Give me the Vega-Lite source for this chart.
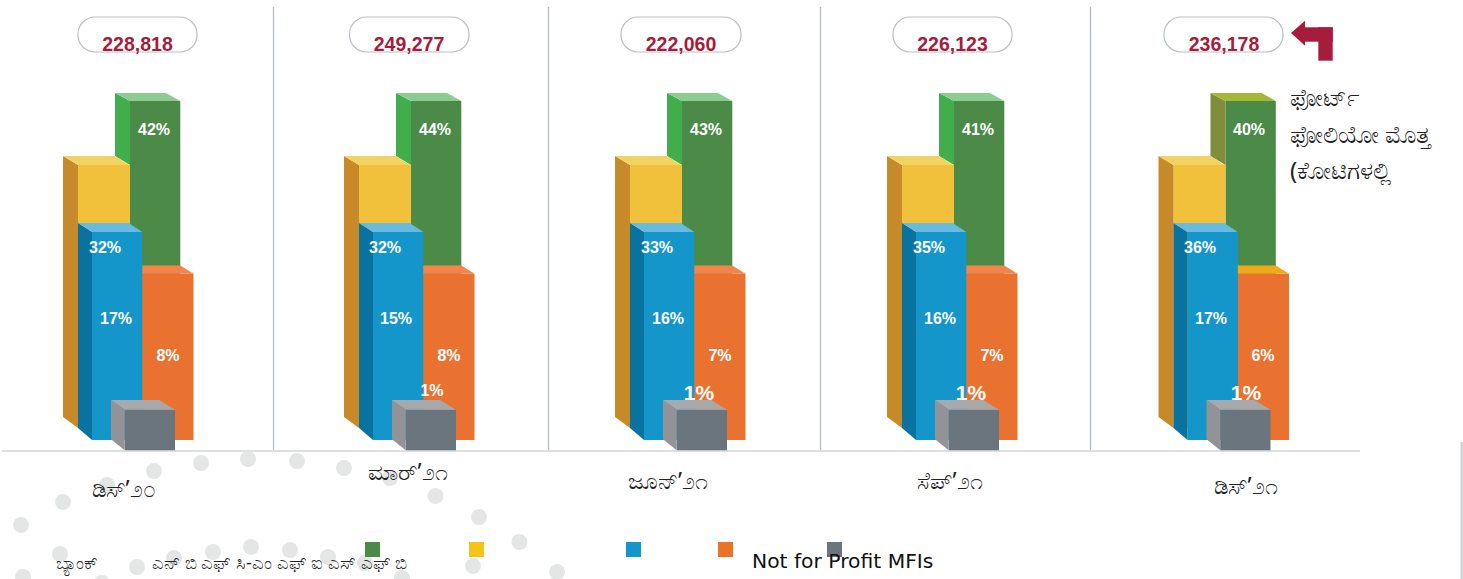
{"$schema":"https://vega.github.io/schema/vega-lite/v6.json","width":1463,"height":579,"padding":0,"autosize":{"type":"none"},"background":"white","view":{"stroke":null},
"config":{"axis":{"disable":true}},
"datasets":{
"dots":[{"x":21,"y":525},{"x":63,"y":502},{"x":107,"y":485},{"x":154,"y":471},{"x":201,"y":463},{"x":248,"y":459},{"x":297,"y":461},{"x":344,"y":468},{"x":390,"y":478},{"x":435.5,"y":496},{"x":479,"y":517},{"x":519.5,"y":542},{"x":557,"y":572},{"x":23,"y":577},{"x":60,"y":554},{"x":102,"y":583},{"x":137,"y":567},{"x":174,"y":558},{"x":213,"y":552},{"x":251,"y":547},{"x":290,"y":550},{"x":328,"y":557},{"x":365,"y":563},{"x":402,"y":578},{"x":473,"y":566}],
"lines":[{"x":273.5,"y":7,"y2":451},{"x":548.5,"y":7,"y2":451},{"x":820.5,"y":7,"y2":451},{"x":1090.5,"y":7,"y2":451}],
"faces":[
{"panel":1,"face":"green front","x":130,"y":101,"y2":440},{"panel":1,"face":"green front","x":180.3,"y":101,"y2":440},
{"panel":1,"face":"green side","x":115,"y":93,"y2":156},{"panel":1,"face":"green side","x":130,"y":101,"y2":165},
{"panel":1,"face":"green top","x":115,"y":93,"y2":93},{"panel":1,"face":"green top","x":130,"y":93,"y2":101},{"panel":1,"face":"green top","x":166,"y":93,"y2":101},{"panel":1,"face":"green top","x":180.3,"y":101,"y2":101},
{"panel":1,"face":"yellow front","x":78,"y":165,"y2":428},{"panel":1,"face":"yellow front","x":130,"y":165,"y2":428},
{"panel":1,"face":"yellow side","x":63,"y":156,"y2":417},{"panel":1,"face":"yellow side","x":78,"y":165,"y2":428},
{"panel":1,"face":"yellow top","x":63,"y":156,"y2":156},{"panel":1,"face":"yellow top","x":78,"y":156,"y2":165},{"panel":1,"face":"yellow top","x":115,"y":156,"y2":165},{"panel":1,"face":"yellow top","x":129,"y":165,"y2":165},
{"panel":1,"face":"orange front","x":142,"y":273.7,"y2":440},{"panel":1,"face":"orange front","x":193.5,"y":273.7,"y2":440},
{"panel":1,"face":"orange top","x":128,"y":265.5,"y2":265.5},{"panel":1,"face":"orange top","x":142,"y":265.5,"y2":273.7},{"panel":1,"face":"orange top","x":180.3,"y":265.5,"y2":273.7},{"panel":1,"face":"orange top","x":193.5,"y":273.7,"y2":273.7},
{"panel":1,"face":"blue front","x":92,"y":232,"y2":440},{"panel":1,"face":"blue front","x":142.3,"y":232,"y2":440},
{"panel":1,"face":"blue side","x":78,"y":223,"y2":428},{"panel":1,"face":"blue side","x":92,"y":232,"y2":440},
{"panel":1,"face":"blue top","x":78,"y":223,"y2":223},{"panel":1,"face":"blue top","x":92,"y":223,"y2":232},{"panel":1,"face":"blue top","x":128.5,"y":223,"y2":232},{"panel":1,"face":"blue top","x":142.3,"y":232,"y2":232},
{"panel":1,"face":"gray front","x":124.7,"y":409.7,"y2":450.3},{"panel":1,"face":"gray front","x":175,"y":409.7,"y2":450.3},
{"panel":1,"face":"gray side","x":111,"y":400,"y2":439.3},{"panel":1,"face":"gray side","x":124.7,"y":409.7,"y2":450.3},
{"panel":1,"face":"gray top","x":111,"y":400,"y2":400},{"panel":1,"face":"gray top","x":124.7,"y":400,"y2":409.7},{"panel":1,"face":"gray top","x":159,"y":400,"y2":409.7},{"panel":1,"face":"gray top","x":175,"y":409.7,"y2":409.7},

{"panel":2,"face":"green front","x":411,"y":101,"y2":440},{"panel":2,"face":"green front","x":461.3,"y":101,"y2":440},
{"panel":2,"face":"green side","x":396,"y":93,"y2":156},{"panel":2,"face":"green side","x":411,"y":101,"y2":165},
{"panel":2,"face":"green top","x":396,"y":93,"y2":93},{"panel":2,"face":"green top","x":411,"y":93,"y2":101},{"panel":2,"face":"green top","x":447,"y":93,"y2":101},{"panel":2,"face":"green top","x":461.3,"y":101,"y2":101},
{"panel":2,"face":"yellow front","x":359,"y":165,"y2":428},{"panel":2,"face":"yellow front","x":411,"y":165,"y2":428},
{"panel":2,"face":"yellow side","x":344,"y":156,"y2":417},{"panel":2,"face":"yellow side","x":359,"y":165,"y2":428},
{"panel":2,"face":"yellow top","x":344,"y":156,"y2":156},{"panel":2,"face":"yellow top","x":359,"y":156,"y2":165},{"panel":2,"face":"yellow top","x":396,"y":156,"y2":165},{"panel":2,"face":"yellow top","x":410,"y":165,"y2":165},
{"panel":2,"face":"orange front","x":423,"y":273.7,"y2":440},{"panel":2,"face":"orange front","x":474.5,"y":273.7,"y2":440},
{"panel":2,"face":"orange top","x":409,"y":265.5,"y2":265.5},{"panel":2,"face":"orange top","x":423,"y":265.5,"y2":273.7},{"panel":2,"face":"orange top","x":461.3,"y":265.5,"y2":273.7},{"panel":2,"face":"orange top","x":474.5,"y":273.7,"y2":273.7},
{"panel":2,"face":"blue front","x":373,"y":232,"y2":440},{"panel":2,"face":"blue front","x":423.3,"y":232,"y2":440},
{"panel":2,"face":"blue side","x":359,"y":223,"y2":428},{"panel":2,"face":"blue side","x":373,"y":232,"y2":440},
{"panel":2,"face":"blue top","x":359,"y":223,"y2":223},{"panel":2,"face":"blue top","x":373,"y":223,"y2":232},{"panel":2,"face":"blue top","x":409.5,"y":223,"y2":232},{"panel":2,"face":"blue top","x":423.3,"y":232,"y2":232},
{"panel":2,"face":"gray front","x":405.7,"y":409.7,"y2":450.3},{"panel":2,"face":"gray front","x":456,"y":409.7,"y2":450.3},
{"panel":2,"face":"gray side","x":392,"y":400,"y2":439.3},{"panel":2,"face":"gray side","x":405.7,"y":409.7,"y2":450.3},
{"panel":2,"face":"gray top","x":392,"y":400,"y2":400},{"panel":2,"face":"gray top","x":405.7,"y":400,"y2":409.7},{"panel":2,"face":"gray top","x":440,"y":400,"y2":409.7},{"panel":2,"face":"gray top","x":456,"y":409.7,"y2":409.7},

{"panel":3,"face":"green front","x":682,"y":101,"y2":440},{"panel":3,"face":"green front","x":732.3,"y":101,"y2":440},
{"panel":3,"face":"green side","x":667,"y":93,"y2":156},{"panel":3,"face":"green side","x":682,"y":101,"y2":165},
{"panel":3,"face":"green top","x":667,"y":93,"y2":93},{"panel":3,"face":"green top","x":682,"y":93,"y2":101},{"panel":3,"face":"green top","x":718,"y":93,"y2":101},{"panel":3,"face":"green top","x":732.3,"y":101,"y2":101},
{"panel":3,"face":"yellow front","x":630,"y":165,"y2":428},{"panel":3,"face":"yellow front","x":682,"y":165,"y2":428},
{"panel":3,"face":"yellow side","x":615,"y":156,"y2":417},{"panel":3,"face":"yellow side","x":630,"y":165,"y2":428},
{"panel":3,"face":"yellow top","x":615,"y":156,"y2":156},{"panel":3,"face":"yellow top","x":630,"y":156,"y2":165},{"panel":3,"face":"yellow top","x":667,"y":156,"y2":165},{"panel":3,"face":"yellow top","x":681,"y":165,"y2":165},
{"panel":3,"face":"orange front","x":694,"y":273.7,"y2":440},{"panel":3,"face":"orange front","x":745.5,"y":273.7,"y2":440},
{"panel":3,"face":"orange top","x":680,"y":265.5,"y2":265.5},{"panel":3,"face":"orange top","x":694,"y":265.5,"y2":273.7},{"panel":3,"face":"orange top","x":732.3,"y":265.5,"y2":273.7},{"panel":3,"face":"orange top","x":745.5,"y":273.7,"y2":273.7},
{"panel":3,"face":"blue front","x":644,"y":232,"y2":440},{"panel":3,"face":"blue front","x":694.3,"y":232,"y2":440},
{"panel":3,"face":"blue side","x":630,"y":223,"y2":428},{"panel":3,"face":"blue side","x":644,"y":232,"y2":440},
{"panel":3,"face":"blue top","x":630,"y":223,"y2":223},{"panel":3,"face":"blue top","x":644,"y":223,"y2":232},{"panel":3,"face":"blue top","x":680.5,"y":223,"y2":232},{"panel":3,"face":"blue top","x":694.3,"y":232,"y2":232},
{"panel":3,"face":"gray front","x":676.7,"y":409.7,"y2":450.3},{"panel":3,"face":"gray front","x":727,"y":409.7,"y2":450.3},
{"panel":3,"face":"gray side","x":663,"y":400,"y2":439.3},{"panel":3,"face":"gray side","x":676.7,"y":409.7,"y2":450.3},
{"panel":3,"face":"gray top","x":663,"y":400,"y2":400},{"panel":3,"face":"gray top","x":676.7,"y":400,"y2":409.7},{"panel":3,"face":"gray top","x":711,"y":400,"y2":409.7},{"panel":3,"face":"gray top","x":727,"y":409.7,"y2":409.7},

{"panel":4,"face":"green front","x":954,"y":101,"y2":440},{"panel":4,"face":"green front","x":1004.3,"y":101,"y2":440},
{"panel":4,"face":"green side","x":939,"y":93,"y2":156},{"panel":4,"face":"green side","x":954,"y":101,"y2":165},
{"panel":4,"face":"green top","x":939,"y":93,"y2":93},{"panel":4,"face":"green top","x":954,"y":93,"y2":101},{"panel":4,"face":"green top","x":990,"y":93,"y2":101},{"panel":4,"face":"green top","x":1004.3,"y":101,"y2":101},
{"panel":4,"face":"yellow front","x":902,"y":165,"y2":428},{"panel":4,"face":"yellow front","x":954,"y":165,"y2":428},
{"panel":4,"face":"yellow side","x":887,"y":156,"y2":417},{"panel":4,"face":"yellow side","x":902,"y":165,"y2":428},
{"panel":4,"face":"yellow top","x":887,"y":156,"y2":156},{"panel":4,"face":"yellow top","x":902,"y":156,"y2":165},{"panel":4,"face":"yellow top","x":939,"y":156,"y2":165},{"panel":4,"face":"yellow top","x":953,"y":165,"y2":165},
{"panel":4,"face":"orange front","x":966,"y":273.7,"y2":440},{"panel":4,"face":"orange front","x":1017.5,"y":273.7,"y2":440},
{"panel":4,"face":"orange top","x":952,"y":265.5,"y2":265.5},{"panel":4,"face":"orange top","x":966,"y":265.5,"y2":273.7},{"panel":4,"face":"orange top","x":1004.3,"y":265.5,"y2":273.7},{"panel":4,"face":"orange top","x":1017.5,"y":273.7,"y2":273.7},
{"panel":4,"face":"blue front","x":916,"y":232,"y2":440},{"panel":4,"face":"blue front","x":966.3,"y":232,"y2":440},
{"panel":4,"face":"blue side","x":902,"y":223,"y2":428},{"panel":4,"face":"blue side","x":916,"y":232,"y2":440},
{"panel":4,"face":"blue top","x":902,"y":223,"y2":223},{"panel":4,"face":"blue top","x":916,"y":223,"y2":232},{"panel":4,"face":"blue top","x":952.5,"y":223,"y2":232},{"panel":4,"face":"blue top","x":966.3,"y":232,"y2":232},
{"panel":4,"face":"gray front","x":948.7,"y":409.7,"y2":450.3},{"panel":4,"face":"gray front","x":999,"y":409.7,"y2":450.3},
{"panel":4,"face":"gray side","x":935,"y":400,"y2":439.3},{"panel":4,"face":"gray side","x":948.7,"y":409.7,"y2":450.3},
{"panel":4,"face":"gray top","x":935,"y":400,"y2":400},{"panel":4,"face":"gray top","x":948.7,"y":400,"y2":409.7},{"panel":4,"face":"gray top","x":983,"y":400,"y2":409.7},{"panel":4,"face":"gray top","x":999,"y":409.7,"y2":409.7},

{"panel":5,"face":"green front","x":1225.5,"y":101,"y2":440},{"panel":5,"face":"green front","x":1275.8,"y":101,"y2":440},
{"panel":5,"face":"olive side","x":1210.5,"y":93,"y2":156},{"panel":5,"face":"olive side","x":1225.5,"y":101,"y2":165},
{"panel":5,"face":"olive top","x":1210.5,"y":93,"y2":93},{"panel":5,"face":"olive top","x":1225.5,"y":93,"y2":101},{"panel":5,"face":"olive top","x":1261.5,"y":93,"y2":101},{"panel":5,"face":"olive top","x":1275.8,"y":101,"y2":101},
{"panel":5,"face":"yellow front","x":1173.5,"y":165,"y2":428},{"panel":5,"face":"yellow front","x":1225.5,"y":165,"y2":428},
{"panel":5,"face":"yellow side","x":1158.5,"y":156,"y2":417},{"panel":5,"face":"yellow side","x":1173.5,"y":165,"y2":428},
{"panel":5,"face":"yellow top","x":1158.5,"y":156,"y2":156},{"panel":5,"face":"yellow top","x":1173.5,"y":156,"y2":165},{"panel":5,"face":"yellow top","x":1210.5,"y":156,"y2":165},{"panel":5,"face":"yellow top","x":1224.5,"y":165,"y2":165},
{"panel":5,"face":"orange front","x":1237.5,"y":273.7,"y2":440},{"panel":5,"face":"orange front","x":1289,"y":273.7,"y2":440},
{"panel":5,"face":"amber top","x":1223.5,"y":265.5,"y2":265.5},{"panel":5,"face":"amber top","x":1237.5,"y":265.5,"y2":273.7},{"panel":5,"face":"amber top","x":1275.8,"y":265.5,"y2":273.7},{"panel":5,"face":"amber top","x":1289,"y":273.7,"y2":273.7},
{"panel":5,"face":"blue front","x":1187.5,"y":232,"y2":440},{"panel":5,"face":"blue front","x":1237.8,"y":232,"y2":440},
{"panel":5,"face":"blue side","x":1173.5,"y":223,"y2":428},{"panel":5,"face":"blue side","x":1187.5,"y":232,"y2":440},
{"panel":5,"face":"blue top","x":1173.5,"y":223,"y2":223},{"panel":5,"face":"blue top","x":1187.5,"y":223,"y2":232},{"panel":5,"face":"blue top","x":1224,"y":223,"y2":232},{"panel":5,"face":"blue top","x":1237.8,"y":232,"y2":232},
{"panel":5,"face":"gray front","x":1220.2,"y":409.7,"y2":450.3},{"panel":5,"face":"gray front","x":1270.5,"y":409.7,"y2":450.3},
{"panel":5,"face":"gray side","x":1206.5,"y":400,"y2":439.3},{"panel":5,"face":"gray side","x":1220.2,"y":409.7,"y2":450.3},
{"panel":5,"face":"gray top","x":1206.5,"y":400,"y2":400},{"panel":5,"face":"gray top","x":1220.2,"y":400,"y2":409.7},{"panel":5,"face":"gray top","x":1254.5,"y":400,"y2":409.7},{"panel":5,"face":"gray top","x":1270.5,"y":409.7,"y2":409.7}
],
"pills":[{"x":78,"x2":197,"y":17,"y2":52},{"x":349.5,"x2":469,"y":17,"y2":52},{"x":621,"x2":741,"y":17,"y2":52},{"x":893,"x2":1012,"y":17,"y2":52},{"x":1164,"x2":1283,"y":17,"y2":52}],
"totals":[{"x":137.5,"y":44.5,"t":"228,818"},{"x":409,"y":44.5,"t":"249,277"},{"x":681,"y":44.5,"t":"222,060"},{"x":952.5,"y":44.5,"t":"226,123"},{"x":1224,"y":44.5,"t":"236,178"}],
"pct":[{"x":154,"y":130,"t":"42%"},{"x":105,"y":248,"t":"32%"},{"x":116,"y":319,"t":"17%"},{"x":168,"y":356,"t":"8%"},
{"x":435,"y":130,"t":"44%"},{"x":385,"y":248,"t":"32%"},{"x":396,"y":319,"t":"15%"},{"x":449,"y":356,"t":"8%"},{"x":432,"y":391,"t":"1%"},
{"x":706,"y":130,"t":"43%"},{"x":657,"y":248,"t":"33%"},{"x":668,"y":319,"t":"16%"},{"x":720,"y":356,"t":"7%"},
{"x":978,"y":130,"t":"41%"},{"x":929,"y":248,"t":"35%"},{"x":940,"y":319,"t":"16%"},{"x":992,"y":356,"t":"7%"},
{"x":1249,"y":130,"t":"40%"},{"x":1200,"y":248,"t":"36%"},{"x":1211,"y":319,"t":"17%"},{"x":1263,"y":356,"t":"6%"}],
"pctLarge":[{"x":699,"y":394,"t":"1%"},{"x":971,"y":394,"t":"1%"},{"x":1246,"y":394,"t":"1%"}],
"months":[{"x":124,"y":490,"t":"ಡಿಸ್’೨೦"},{"x":408,"y":473,"t":"ಮಾರ್’೨೧"},{"x":668,"y":482,"t":"ಜೂನ್’೨೧"},{"x":950,"y":482,"t":"ಸೆಪ್’೨೧"},{"x":1246,"y":487,"t":"ಡಿಸ್’೨೧"}],
"notes":[{"x":1290,"y":99,"t":"ಫೋರ್ಟ್"},{"x":1290,"y":136,"t":"ಫೋಲಿಯೋ ಮೊತ್ತ"},{"x":1290,"y":172,"t":"(ಕೋಟಿಗಳಲ್ಲಿ"}],
"legendText":[{"x":56,"y":564,"t":"ಬ್ಯಾಂಕ್"},{"x":152,"y":564,"t":"ಎನ್ ಬಿ ಎಫ್ ಸಿ-ಎಂ ಎಫ್ ಐ ಎಸ್ ಎಫ್ ಬಿ"}],
"legendLarge":[{"x":752,"y":562,"t":"Not for Profit MFIs"}],
"swatches":[{"s":"NBFC","x":365,"x2":380,"y":542,"y2":557},{"s":"Bank","x":469,"x2":484,"y":542,"y2":557},{"s":"SFB","x":626,"x2":641,"y":542,"y2":557},{"s":"Other","x":718,"x2":733,"y":542,"y2":557},{"s":"NFP","x":827,"x2":842,"y":542,"y2":557}],
"arrowHead":[{"x":1291,"y":33,"y2":33},{"x":1305,"y":20.7,"y2":45.7}],
"arrowBody":[{"x":1305,"x2":1332.7,"y":27.3,"y2":41.7},{"x":1318.3,"x2":1332.7,"y":27.3,"y2":60.7}],
"edge":[{"x":1460.5,"x2":1463,"y":442,"y2":579}],
"base":[{"x":2,"x2":1360,"y":451}]
},
"encoding":{
"x":{"field":"x","type":"quantitative","scale":{"domain":[0,1463],"nice":false,"zero":false},"axis":null},
"y":{"field":"y","type":"quantitative","scale":{"domain":[579,0],"nice":false,"zero":false},"axis":null}
},
"layer":[
{"data":{"name":"dots"},"mark":{"type":"circle","size":254,"color":"#E4E5E5","opacity":1}},
{"data":{"name":"edge"},"mark":{"type":"rect","color":"#D3D4D5"},"encoding":{"x2":{"field":"x2"},"y2":{"field":"y2"}}},
{"data":{"name":"lines"},"mark":{"type":"rule","color":"#B6BDC2","strokeWidth":1.3},"encoding":{"y2":{"field":"y2"}}},
{"data":{"name":"base"},"mark":{"type":"rule","color":"#DEDFDF","strokeWidth":2},"encoding":{"x2":{"field":"x2"}}},
{"data":{"name":"faces"},"transform":[{"filter":"indexof(datum.face,'gray')<0"}],"mark":{"type":"area","orient":"vertical","interpolate":"linear"},
"encoding":{"y2":{"field":"y2"},"detail":{"field":"panel"},"color":{"field":"face","type":"nominal","legend":null,"scale":{"domain":["green front","green side","green top","olive side","olive top","yellow front","yellow side","yellow top","orange front","orange top","amber top","blue front","blue side","blue top","gray front","gray side","gray top"],"range":["#4C8A48","#3FAE4B","#8CCB92","#808E3A","#A3B836","#F1C13C","#C68A2A","#F3D264","#E97231","#F5834C","#EFA91B","#1596CB","#0A729F","#67BBE0","#6B757D","#919396","#A7A8AB"]}}}},
{"data":{"name":"pct"},"mark":{"type":"text","font":"Liberation Sans","fontWeight":"bold","fontSize":16,"color":"#FFFFFF","align":"center","baseline":"middle"},"encoding":{"text":{"field":"t"}}},
{"data":{"name":"pctLarge"},"mark":{"type":"text","font":"Liberation Sans","fontWeight":"bold","fontSize":21,"color":"#FFFFFF","align":"center","baseline":"middle"},"encoding":{"text":{"field":"t"}}},
{"data":{"name":"faces"},"transform":[{"filter":"indexof(datum.face,'gray')>=0"}],"mark":{"type":"area","orient":"vertical","interpolate":"linear"},
"encoding":{"y2":{"field":"y2"},"detail":{"field":"panel"},"color":{"field":"face","type":"nominal","legend":null,"scale":{"domain":["green front","green side","green top","olive side","olive top","yellow front","yellow side","yellow top","orange front","orange top","amber top","blue front","blue side","blue top","gray front","gray side","gray top"],"range":["#4C8A48","#3FAE4B","#8CCB92","#808E3A","#A3B836","#F1C13C","#C68A2A","#F3D264","#E97231","#F5834C","#EFA91B","#1596CB","#0A729F","#67BBE0","#6B757D","#919396","#A7A8AB"]}}}},
{"data":{"name":"pills"},"mark":{"type":"rect","fillOpacity":0,"stroke":"#B9C0C6","strokeWidth":1.2,"cornerRadius":17},"encoding":{"x2":{"field":"x2"},"y2":{"field":"y2"}}},
{"data":{"name":"totals"},"mark":{"type":"text","font":"Liberation Sans","fontWeight":"bold","fontSize":19.5,"color":"#A51C3D","align":"center","baseline":"middle"},"encoding":{"text":{"field":"t"}}},
{"data":{"name":"arrowHead"},"mark":{"type":"area","orient":"vertical","color":"#A51C3D"},"encoding":{"y2":{"field":"y2"}}},
{"data":{"name":"arrowBody"},"mark":{"type":"rect","color":"#A51C3D"},"encoding":{"x2":{"field":"x2"},"y2":{"field":"y2"}}},
{"data":{"name":"swatches"},"mark":{"type":"rect"},"encoding":{"x2":{"field":"x2"},"y2":{"field":"y2"},"color":{"field":"s","type":"nominal","legend":null,"scale":{"domain":["NBFC","Bank","SFB","Other","NFP"],"range":["#4C8A48","#F4C518","#1596CB","#E97425","#6B757D"]}}}},
{"data":{"name":"months"},"mark":{"type":"text","font":"Noto Sans","fontSize":23,"color":"#222222","align":"center","baseline":"middle"},"encoding":{"text":{"field":"t"}}},
{"data":{"name":"notes"},"mark":{"type":"text","font":"Noto Sans","fontSize":24,"color":"#222222","align":"left","baseline":"middle"},"encoding":{"text":{"field":"t"}}},
{"data":{"name":"legendText"},"mark":{"type":"text","font":"Noto Sans","fontSize":18,"color":"#222222","align":"left","baseline":"middle"},"encoding":{"text":{"field":"t"}}},
{"data":{"name":"legendLarge"},"mark":{"type":"text","font":"DejaVu Sans","fontSize":20.3,"color":"#111111","align":"left","baseline":"middle"},"encoding":{"text":{"field":"t"}}}
],
"resolve":{"scale":{"color":"independent"}}
}
